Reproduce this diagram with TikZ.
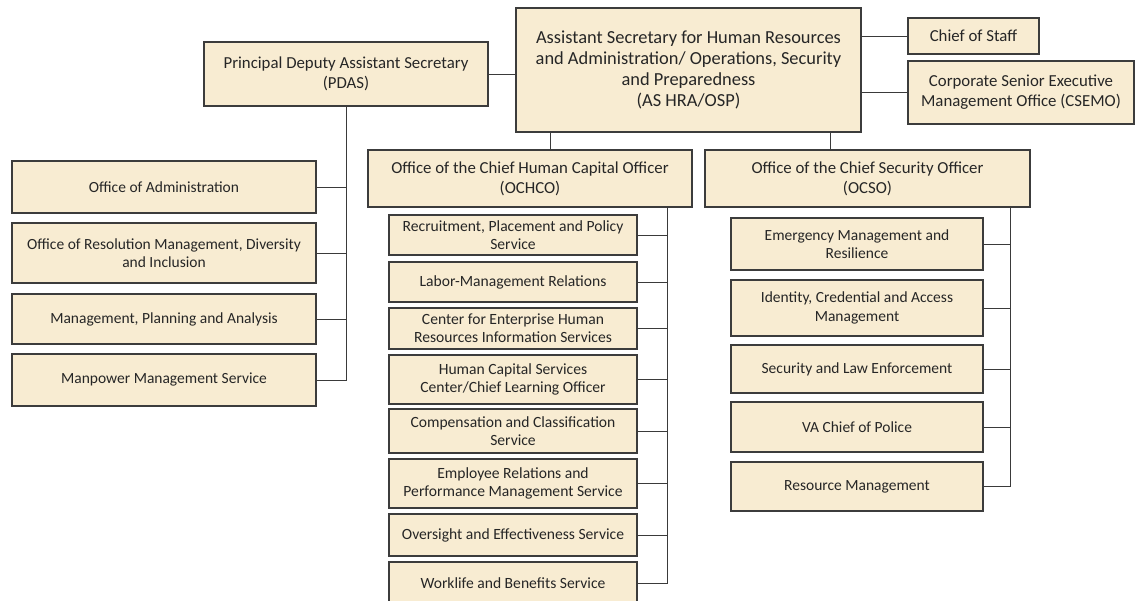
\documentclass[tikz,border=0pt]{standalone}
\usepackage{fontspec}
\setmainfont{Carlito}
\definecolor{boxfill}{HTML}{F8ECD2}
\definecolor{boxdraw}{HTML}{3C3C3C}
\definecolor{linecol}{HTML}{3A3A3A}
\tikzset{
  box/.style={draw=boxdraw, line width=1.1pt, fill=boxfill, rectangle, align=center, inner sep=2pt, text=black!85},
  huge/.style={font=\fontsize{18.4}{21}\selectfont},
  big/.style={font=\fontsize{16.8}{20}\selectfont},
  mid/.style={font=\fontsize{15.5}{18.5}\selectfont},
  small/.style={font=\fontsize{15.6}{18.3}\selectfont},
  conn/.style={draw=linecol, line width=0.9pt},
}
\begin{document}
\begin{tikzpicture}[x=1pt,y=-1pt]
\useasboundingbox (0,0) rectangle (1136,601);
% top level
\node[box,big,minimum width=284pt,minimum height=64pt] (PDAS) at (346,74) {Principal Deputy Assistant Secretary\\(PDAS)};
\node[box,huge,minimum width=345pt,minimum height=124pt] (AS) at (688.5,70) {Assistant Secretary for Human Resources\\and Administration/ Operations, Security\\and Preparedness\\(AS HRA/OSP)};
\node[box,big,minimum width=131pt,minimum height=36pt] (CoS) at (973.5,36) {Chief of Staff};
\node[box,big,minimum width=226pt,minimum height=63pt] (CSEMO) at (1021,92.5) {Corporate Senior Executive\\Management Office (CSEMO)};
% left column
\node[box,mid,minimum width=304pt,minimum height=52pt] (OA) at (164,187) {Office of Administration};
\node[box,mid,minimum width=304pt,minimum height=60pt] (ORM) at (164,253) {Office of Resolution Management, Diversity\\and Inclusion};
\node[box,mid,minimum width=304pt,minimum height=50pt] (MPA) at (164,319) {Management, Planning and Analysis};
\node[box,mid,minimum width=304pt,minimum height=52pt] (MMS) at (164,380) {Manpower Management Service};
% offices
\node[box,big,minimum width=324pt,minimum height=57pt] (OCHCO) at (530,178.5) {Office of the Chief Human Capital Officer\\(OCHCO)};
\node[box,big,minimum width=325pt,minimum height=57pt] (OCSO) at (867.5,178.5) {Office of the Chief Security Officer\\(OCSO)};
% OCHCO children
\node[box,small,minimum width=248pt,minimum height=40pt] (RPP) at (513,235) {Recruitment, Placement and Policy\\Service};
\node[box,small,minimum width=248pt,minimum height=40pt] (LMR) at (513,282) {Labor-Management Relations};
\node[box,small,minimum width=248pt,minimum height=41pt] (CEH) at (513,328.5) {Center for Enterprise Human\\Resources Information Services};
\node[box,small,minimum width=248pt,minimum height=49pt] (HCS) at (513,379.5) {Human Capital Services\\Center/Chief Learning Officer};
\node[box,small,minimum width=248pt,minimum height=44pt] (CCS) at (513,431) {Compensation and Classification\\Service};
\node[box,small,minimum width=248pt,minimum height=49pt] (ERP) at (513,483.5) {Employee Relations and\\Performance Management Service};
\node[box,small,minimum width=248pt,minimum height=42pt] (OES) at (513,535) {Oversight and Effectiveness Service};
\node[box,small,minimum width=248pt,minimum height=42pt] (WBS) at (513,583) {Worklife and Benefits Service};
% OCSO children
\node[box,mid,minimum width=252pt,minimum height=52pt] (EMR) at (857,244) {Emergency Management and\\Resilience};
\node[box,mid,minimum width=252pt,minimum height=56pt] (ICA) at (857,308) {Identity, Credential and Access\\Management};
\node[box,mid,minimum width=252pt,minimum height=48pt] (SLE) at (857,369) {Security and Law Enforcement};
\node[box,mid,minimum width=252pt,minimum height=50pt] (VAC) at (857,427) {VA Chief of Police};
\node[box,mid,minimum width=252pt,minimum height=49pt] (RMG) at (857,486.5) {Resource Management};
% connectors top
\draw[conn] (PDAS.east) -- (PDAS.east -| AS.west);
\draw[conn] (CoS.west) -- (CoS.west -| AS.east);
\draw[conn] (CSEMO.west) -- (CSEMO.west -| AS.east);
\coordinate (j1) at (550,150);
\coordinate (j2) at (830,150);
\draw[conn] (j1) -- (j1 |- AS.south);
\draw[conn] (j2) -- (j2 |- AS.south);
% PDAS bus
\draw[conn] (PDAS.south) |- (MMS.east);
\foreach \n in {OA,ORM,MPA} \draw[conn] (\n.east) -- (\n.east -| PDAS.south);
% OCHCO bus
\coordinate (b1) at (667,207);
\draw[conn] (b1) |- (WBS.east);
\foreach \n in {RPP,LMR,CEH,HCS,CCS,ERP,OES} \draw[conn] (\n.east) -- (\n.east -| b1);
% OCSO bus
\coordinate (b2) at (1010,207);
\draw[conn] (b2) |- (RMG.east);
\foreach \n in {EMR,ICA,SLE,VAC} \draw[conn] (\n.east) -- (\n.east -| b2);
\end{tikzpicture}
\end{document}
